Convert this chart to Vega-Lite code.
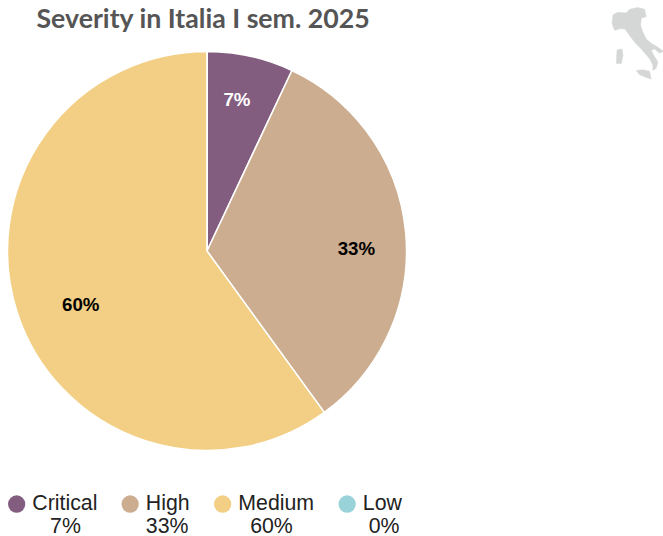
{
  "$schema": "https://vega.github.io/schema/vega-lite/v6.json",
  "background": "white",
  "padding": {"left": 4, "top": 6, "right": 0, "bottom": 10},
  "spacing": 201,
  "config": {"view": {"stroke": null}, "font": "Liberation Sans"},
  "hconcat": [
    {
      "width": 398,
      "height": 398,
      "title": {
        "text": "Severity in Italia I sem. 2025",
        "font": "Lato",
        "fontSize": 26.7,
        "fontWeight": "bold",
        "color": "#555555",
        "anchor": "start",
        "offset": 15,
        "dx": 32
      },
      "data": {
        "values": [
          {"severity": "Critical", "share": 7, "rank": 1, "label": "7%"},
          {"severity": "High", "share": 33, "rank": 2, "label": "33%"},
          {"severity": "Medium", "share": 60, "rank": 3, "label": "60%"},
          {"severity": "Low", "share": 0, "rank": 4, "label": ""}
        ]
      },
      "encoding": {
        "theta": {"field": "share", "type": "quantitative", "stack": true},
        "order": {"field": "rank", "type": "ordinal"}
      },
      "layer": [
        {
          "mark": {"type": "arc", "outerRadius": 199.5, "stroke": "white", "strokeWidth": 1.5},
          "encoding": {
            "color": {
              "field": "severity",
              "type": "nominal",
              "scale": {
                "domain": ["Critical", "High", "Medium", "Low"],
                "range": ["#825d80", "#ccad8f", "#f2cf84", "#99d2d9"]
              },
              "legend": {
                "title": null,
                "orient": "none",
                "legendX": -2,
                "legendY": 441,
                "direction": "horizontal",
                "columns": 4,
                "columnPadding": 21.5,
                "symbolType": "circle",
                "symbolSize": 300,
                "symbolStrokeWidth": 0,
                "labelFont": "Liberation Sans",
                "labelFontSize": 21.3,
                "labelColor": "#222222",
                "labelLimit": 200,
                "labelOffset": 5,
                "labelExpr": "[datum.label, {'Critical':'\u200b\u00a0\u00a0\u00a07%','High':'33%','Medium':'\u200b\u00a0\u00a060%','Low':'\u200b\u00a00%'}[datum.label]]"
              }
            }
          }
        },
        {
          "mark": {"type": "text", "radius": 151, "dx": -3, "dy": -4, "font": "Liberation Sans", "fontSize": 18.7, "fontWeight": "bold", "color": "white"},
          "encoding": {
            "text": {"condition": {"test": "datum.severity !== 'Critical'", "value": ""}, "field": "label"}
          }
        },
        {
          "mark": {"type": "text", "radius": 151, "dx": -1, "dy": 12, "font": "Liberation Sans", "fontSize": 18.7, "fontWeight": "bold", "color": "black"},
          "encoding": {
            "text": {"condition": {"test": "datum.severity !== 'High'", "value": ""}, "field": "label"}
          }
        },
        {
          "mark": {"type": "text", "radius": 137, "dx": 4, "dy": 12, "font": "Liberation Sans", "fontSize": 18.7, "fontWeight": "bold", "color": "black"},
          "encoding": {
            "text": {"condition": {"test": "datum.severity !== 'Medium'", "value": ""}, "field": "label"}
          }
        }
      ]
    },
    {
      "width": 50,
      "height": 30,
      "data": {
        "values": {
          "type": "FeatureCollection",
          "features": [
            {"type": "Feature", "properties": {"name": "Italia"}, "geometry": {"type": "MultiPolygon", "coordinates": [
              [[[6.8,46.13],[7.78,46.47],[9.41,46.37],[10.07,46.86],[11.7,47.1],[13.01,46.86],[13.34,45.89],[12.36,45.64],[12.22,44.67],[12.68,43.7],[13.34,42.73],[14.32,42.09],[15.63,41.51],[16.74,40.93],[15.95,40.64],[14.97,41.27],[14.32,41.03],[14.84,40.3],[15.63,39.32],[15.3,38.35],[14.64,38.01],[14.64,38.84],[13.99,39.81],[12.36,41.27],[11.05,42.24],[10.07,43.21],[9.09,44.18],[8.1,44.18],[7.12,43.94],[6.6,44.91],[6.8,46.13]]],
              [[[7.58,41.12],[8.56,41.27],[8.76,40.3],[8.43,39.08],[7.45,39.08],[7.58,41.12]]],
              [[[11.37,38.01],[12.68,38.11],[13.99,37.87],[14.32,36.65],[13.34,36.9],[11.97,37.38],[11.37,38.01]]]
            ]}}
          ]
        },
        "format": {"type": "json", "property": "features"}
      },
      "projection": {"type": "mercator", "scale": 291, "translate": [-34.5, 227.4]},
      "mark": {"type": "geoshape", "fill": "#d5d7d6", "stroke": "#d5d7d6", "strokeWidth": 0.5, "clip": false}
    }
  ]
}
